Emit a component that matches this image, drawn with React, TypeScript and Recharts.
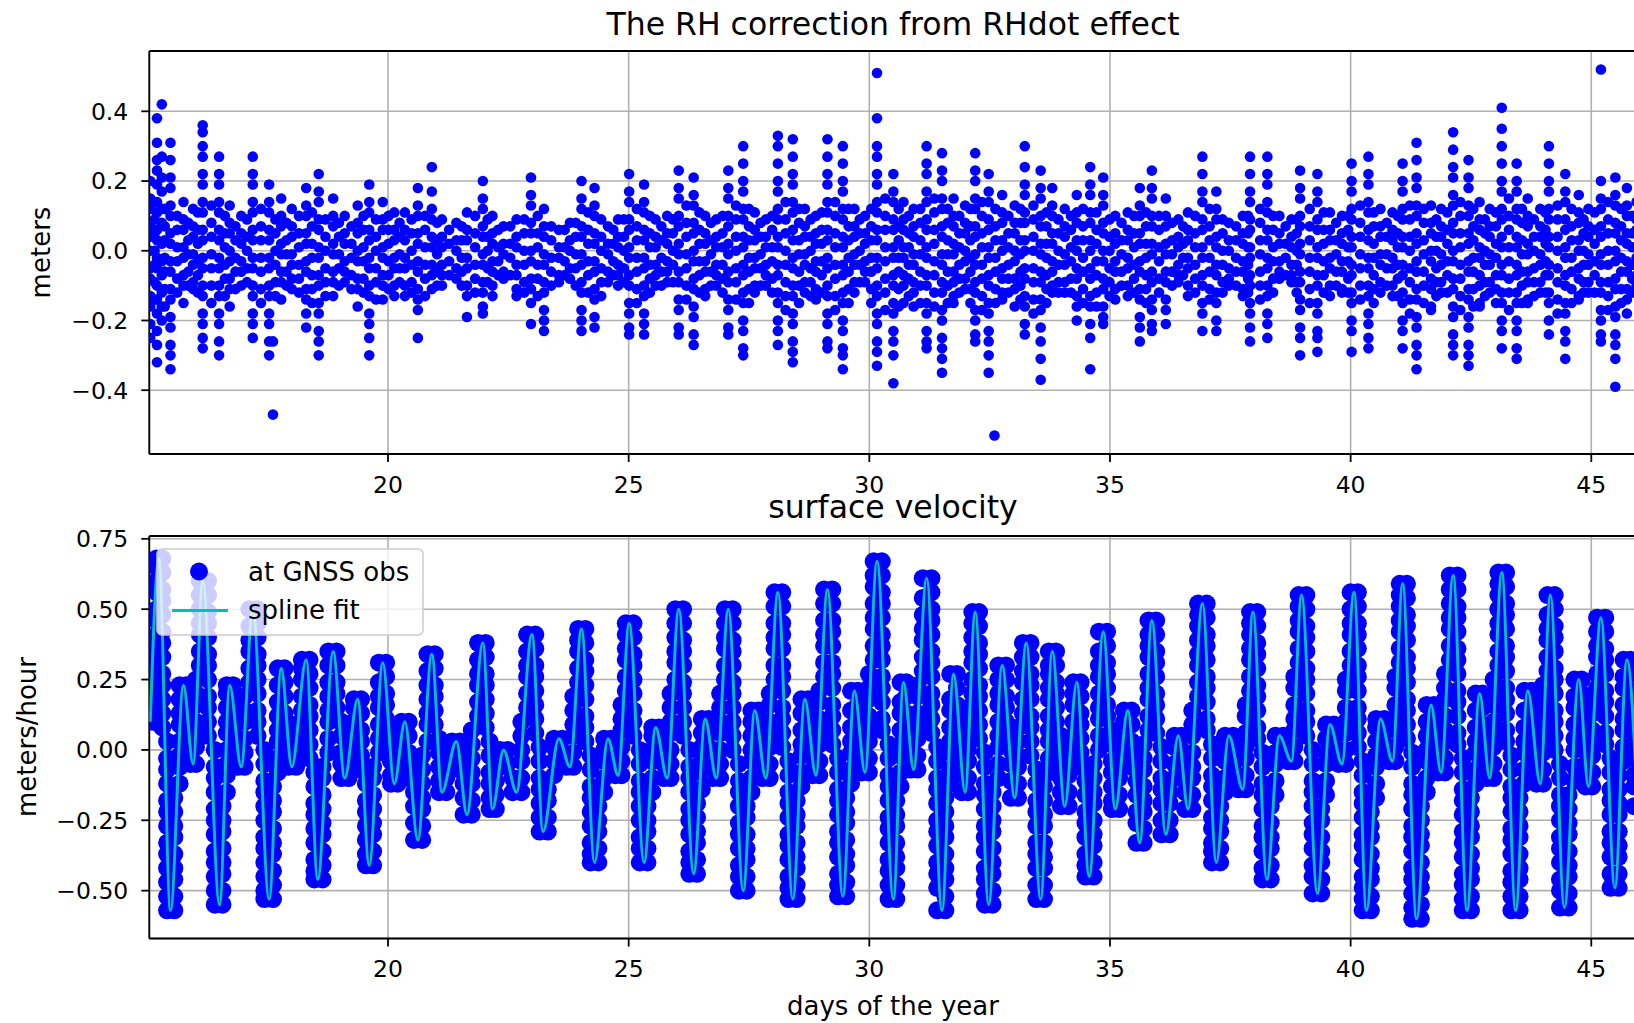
import {
  ScatterChart,
  ComposedChart,
  Scatter,
  Line,
  XAxis,
  YAxis,
  CartesianGrid,
  ReferenceLine
} from 'recharts'

// x range shared by both panels (day of year)
const DAY_MIN = 15.04
const DAY_MAX = 45.95
const dayTicks = [20, 25, 30, 35, 40, 45]
const rhTicks = [-0.4, -0.2, 0, 0.2, 0.4]
const velTicks = [-0.5, -0.25, 0, 0.25, 0.5, 0.75]

// RH correction, grouped by pass time; values in cm
const rhCols: [number, number[]][] = [
  [15.06, [20, 15, 12, 7, 4, 0, -5, -8, -13, -16, -21, -25]],
  [15.2, [38, 31, 26, 23, 19, 14, 11, 6, 3, -2, -5, -10, -14, -18, -23, -27, -32]],
  [15.3, [42, 27, 21, 17, 12, 8, 2, -3, -7, -12, -16, -20]],
  [15.48, [31, 26, 21, 18, 13, 10, 5, 2, -3, -6, -11, -14, -19, -22, -27, -30, -34]],
  [15.75, [14, 9, 6, 1, -2, -7, -10, -15]],
  [15.95, [12, 7, 4, -1, -4, -9, -11]],
  [16.15, [36, 34, 30, 27, 22, 19, 14, 11, 6, 3, -2, -5, -10, -13, -18, -21, -25, -28]],
  [16.49, [27, 22, 19, 14, 11, 6, 3, -2, -5, -10, -13, -18, -21, -26, -30]],
  [16.71, [13, 8, 5, 0, -3, -8, -11, -16]],
  [16.95, [10, 5, 2, -3, -6, -10]],
  [17.19, [27, 22, 19, 14, 11, 6, 3, -2, -5, -10, -13, -18, -21, -25]],
  [17.53, [19, 14, 11, 6, 3, -2, -5, -10, -13, -18, -21, -26, -30]],
  [17.61, [-26, -47]],
  [17.78, [15, 10, 7, 2, -1, -6, -9, -14]],
  [18.0, [12, 7, 4, -1, -4, -8, -11]],
  [18.3, [18, 13, 10, 5, 2, -3, -6, -11, -14, -18, -22]],
  [18.56, [22, 17, 14, 9, 6, 1, -2, -7, -10, -15, -18, -23, -26, -30]],
  [18.86, [15, 10, 7, 2, -1, -6, -9, -13]],
  [19.1, [10, 5, 2, -3, -6, -9]],
  [19.37, [13, 8, 5, 0, -3, -8, -11, -16]],
  [19.61, [19, 14, 11, 6, 3, -2, -5, -10, -13, -18, -21, -25, -30]],
  [19.89, [14, 9, 6, 1, -2, -7, -10, -14]],
  [20.13, [11, 6, 3, -2, -5, -10, -13]],
  [20.35, [11, 6, 3, -2, -5, -10, -13]],
  [20.62, [18, 13, 10, 5, 2, -3, -6, -11, -14, -17, -25]],
  [20.91, [24, 17, 12, 9, 4, 1, -4, -7, -11]],
  [21.12, [9, 4, 1, -4, -7, -10]],
  [21.42, [8, 3, 0, -5, -8]],
  [21.64, [11, 6, 3, -2, -5, -10, -13, -19]],
  [21.97, [20, 15, 12, 7, 4, -1, -4, -9, -12, -16, -18]],
  [22.17, [10, 5, 2, -3, -6, -10, -13]],
  [22.4, [7, 2, -1, -6, -8]],
  [22.67, [9, 4, 1, -4, -7, -11, -13]],
  [22.97, [21, 16, 13, 8, 5, 0, -3, -8, -11, -15, -21]],
  [23.24, [12, 7, 4, -1, -4, -9, -12, -17, -20, -23]],
  [23.55, [6, 1, -2, -7, -9]],
  [23.78, [8, 3, 0, -5, -8]],
  [24.02, [20, 15, 12, 7, 4, -1, -4, -9, -12, -17, -20, -23]],
  [24.29, [18, 13, 10, 5, 2, -3, -6, -11, -14, -19, -22]],
  [24.57, [7, 2, -1, -6, -9]],
  [24.78, [9, 4, 1, -4, -7, -10]],
  [25.01, [22, 17, 14, 9, 6, 1, -2, -7, -10, -15, -18, -22, -24]],
  [25.32, [19, 14, 11, 6, 3, -2, -5, -10, -13, -18, -21, -24]],
  [25.56, [9, 4, 1, -4, -7, -10]],
  [25.8, [10, 5, 2, -3, -6, -9]],
  [26.04, [23, 18, 15, 10, 7, 2, -1, -6, -9, -14, -17, -22, -24]],
  [26.35, [21, 16, 13, 8, 5, 0, -3, -8, -11, -16, -19, -24, -27]],
  [26.59, [10, 5, 2, -3, -6, -11, -13]],
  [26.82, [9, 4, 1, -4, -7, -10]],
  [27.07, [23, 18, 15, 10, 7, 2, -1, -6, -9, -14, -17, -22, -24]],
  [27.38, [30, 25, 20, 17, 12, 9, 4, 1, -4, -7, -12, -15, -20, -23, -28, -30]],
  [27.62, [11, 6, 3, -2, -5, -10, -12]],
  [27.85, [9, 4, 1, -4, -7, -10]],
  [28.1, [33, 30, 25, 20, 17, 12, 9, 4, 1, -4, -7, -12, -15, -20, -23, -27]],
  [28.41, [32, 27, 22, 19, 14, 11, 6, 3, -2, -5, -10, -13, -18, -21, -26, -29, -32]],
  [28.66, [12, 7, 4, -1, -4, -9, -12]],
  [28.89, [10, 5, 2, -3, -6, -11, -14]],
  [29.13, [32, 27, 22, 19, 14, 11, 6, 3, -2, -5, -10, -13, -18, -21, -26, -28]],
  [29.45, [30, 25, 20, 17, 12, 9, 4, 1, -4, -7, -12, -15, -20, -23, -28, -30, -34]],
  [29.69, [12, 7, 4, -1, -4, -9, -12]],
  [29.91, [10, 5, 2, -3, -6, -9]],
  [30.16, [51, 38, 30, 27, 22, 19, 14, 11, 6, 3, -2, -5, -10, -13, -18, -21, -26, -29, -33]],
  [30.5, [22, 17, 14, 9, 6, 1, -2, -7, -10, -15, -18, -23, -26, -30, -38]],
  [30.71, [14, 9, 6, 1, -2, -7, -10, -15]],
  [30.92, [12, 7, 4, -1, -4, -9, -12, -16]],
  [31.19, [30, 25, 22, 17, 14, 9, 6, 1, -2, -7, -10, -15, -18, -23, -26, -28]],
  [31.51, [28, 23, 20, 15, 12, 7, 4, -1, -4, -9, -12, -17, -20, -25, -28, -31, -35]],
  [31.75, [15, 10, 7, 2, -1, -6, -9, -13, -15]],
  [31.99, [13, 8, 5, 0, -3, -8, -11]],
  [32.2, [28, 23, 20, 15, 12, 7, 4, -1, -4, -9, -12, -17, -20, -24, -26]],
  [32.48, [22, 17, 14, 9, 6, 1, -2, -7, -10, -15, -18, -23, -26, -30, -35]],
  [32.6, [-53]],
  [32.76, [16, 11, 8, 3, 0, -5, -8, -12, -14]],
  [33.02, [13, 8, 5, 0, -3, -8, -11, -16]],
  [33.23, [30, 24, 19, 16, 11, 8, 3, 0, -5, -8, -13, -16, -21, -24]],
  [33.56, [23, 18, 15, 10, 7, 2, -1, -6, -9, -14, -17, -22, -26, -31, -37]],
  [33.8, [18, 13, 10, 5, 2, -3, -6, -10, -12]],
  [34.06, [12, 7, 4, -1, -4, -9, -12]],
  [34.31, [16, 11, 8, 3, 0, -5, -8, -13, -16, -20]],
  [34.59, [24, 19, 16, 11, 8, 3, 0, -5, -8, -13, -16, -21, -25, -34]],
  [34.86, [21, 16, 13, 8, 5, 0, -3, -8, -11, -16, -19, -21]],
  [35.11, [10, 5, 2, -3, -6, -11, -14]],
  [35.37, [11, 6, 3, -2, -5, -10, -13]],
  [35.62, [18, 13, 10, 5, 2, -3, -6, -11, -14, -19, -22, -26]],
  [35.87, [23, 18, 15, 10, 7, 2, -1, -6, -9, -14, -17, -21, -23]],
  [36.16, [15, 10, 7, 2, -1, -6, -9, -14, -17, -21]],
  [36.42, [9, 4, 1, -4, -7, -9]],
  [36.62, [11, 6, 3, -2, -5, -10, -13]],
  [36.92, [27, 22, 17, 14, 9, 6, 1, -2, -7, -10, -15, -18, -23]],
  [37.21, [17, 12, 9, 4, 1, -4, -7, -12, -15, -20, -23]],
  [37.47, [8, 3, 0, -5, -8, -10]],
  [37.76, [10, 5, 2, -3, -6, -11, -13]],
  [37.91, [27, 22, 17, 14, 9, 6, 1, -2, -7, -10, -15, -18, -22, -26]],
  [38.27, [27, 22, 19, 14, 11, 6, 3, -2, -5, -10, -13, -18, -21, -25]],
  [38.52, [10, 5, 2, -3, -6, -8]],
  [38.77, [9, 4, 1, -4, -7, -9]],
  [38.95, [23, 18, 15, 10, 7, 2, -1, -6, -9, -14, -17, -22, -25, -30]],
  [39.31, [22, 17, 14, 9, 6, 1, -2, -7, -10, -15, -18, -23, -25, -29]],
  [39.57, [11, 6, 3, -2, -5, -10, -13]],
  [39.82, [10, 5, 2, -3, -6, -11, -12]],
  [40.02, [25, 20, 17, 12, 9, 4, 1, -4, -7, -12, -15, -20, -23, -29]],
  [40.37, [27, 22, 19, 14, 11, 6, 3, -2, -5, -10, -13, -18, -21, -25, -28]],
  [40.62, [12, 7, 4, -1, -4, -9, -12]],
  [40.87, [11, 6, 3, -2, -5, -10, -13]],
  [41.08, [25, 20, 17, 12, 9, 4, 1, -4, -7, -12, -15, -20, -23, -28]],
  [41.37, [31, 26, 21, 18, 13, 10, 5, 2, -3, -6, -11, -14, -19, -22, -27, -30, -34]],
  [41.67, [13, 8, 5, 0, -3, -8, -11, -16, -17]],
  [41.88, [12, 7, 4, -1, -4, -9, -12]],
  [42.13, [34, 29, 24, 21, 16, 13, 8, 5, 0, -3, -8, -11, -16, -19, -24, -27, -30]],
  [42.45, [26, 21, 18, 13, 10, 5, 2, -3, -6, -11, -14, -19, -22, -27, -30, -33]],
  [42.68, [14, 9, 6, 1, -2, -7, -10, -15, -16]],
  [42.89, [12, 7, 4, -1, -4, -9, -12]],
  [43.14, [41, 35, 30, 25, 20, 17, 12, 9, 4, 1, -4, -7, -12, -15, -20, -23, -28]],
  [43.45, [25, 20, 17, 12, 9, 4, 1, -4, -7, -12, -15, -20, -23, -28, -31]],
  [43.68, [15, 10, 7, 2, -1, -6, -9, -14, -15]],
  [43.94, [12, 7, 4, -1, -4, -9, -12]],
  [44.12, [30, 25, 20, 17, 12, 9, 4, 1, -4, -7, -12, -15, -20, -24]],
  [44.46, [22, 17, 14, 9, 6, 1, -2, -7, -10, -15, -18, -23, -26, -31]],
  [44.74, [16, 11, 8, 3, 0, -5, -8, -13, -14]],
  [44.94, [12, 7, 4, -1, -4, -9, -12]],
  [45.2, [52, 20, 15, 12, 7, 4, -1, -4, -9, -12, -17, -20, -24, -26]],
  [45.5, [21, 16, 13, 8, 5, 0, -3, -8, -11, -16, -19, -24, -27, -31, -39]],
  [45.74, [18, 13, 10, 5, 2, -3, -6, -11, -14, -18]],
  [45.94, [14, 9, 6, 1, -2, -7, -10]]
]

// RH correction between passes (smaller spread around zero); cm
const rhMidCols: [number, number[]][] = [
  [15.15, [14, 9, 5, 0, -4, -9, -14]], [15.36, [12, 7, 3, -2, -6, -11, -16]], [15.62, [10, 6, 1, -3, -8, -12]],
  [15.85, [8, 3, -1, -6, -10]], [16.05, [11, 6, 2, -3, -7, -12]], [16.33, [13, 8, 4, -1, -5, -10, -15]],
  [16.61, [10, 5, 1, -4, -8, -13]], [16.83, [7, 3, -2, -6, -11]], [17.07, [9, 4, 0, -5, -9]],
  [17.36, [12, 7, 3, -2, -6, -11, -15]], [17.66, [9, 5, 0, -4, -9, -13]], [17.89, [8, 3, -1, -6, -10]],
  [18.15, [10, 5, 1, -4, -8, -12]], [18.42, [11, 7, 2, -2, -7, -11, -15]], [18.7, [9, 4, 0, -5, -9, -13]],
  [18.98, [8, 4, -1, -5, -10]], [19.24, [7, 2, -2, -7, -11]], [19.49, [10, 6, 1, -3, -8, -12]],
  [19.75, [9, 4, 0, -5, -9, -14]], [20.01, [10, 6, 2, -3, -7, -11]], [20.24, [8, 4, -1, -5, -9]],
  [20.49, [9, 5, 0, -4, -9, -12]], [20.77, [10, 6, 1, -4, -8, -13]], [21.02, [8, 3, -1, -6, -10]],
  [21.27, [6, 2, -3, -7]], [21.53, [7, 3, -2, -6, -10]], [21.81, [10, 5, 1, -4, -8, -12]],
  [22.07, [9, 4, 0, -5, -9]], [22.29, [6, 1, -3, -7]], [22.54, [7, 2, -2, -7]],
  [22.83, [9, 5, 0, -4, -9, -12]], [23.11, [10, 5, 1, -4, -8, -13]], [23.39, [7, 3, -2, -6, -10]],
  [23.67, [6, 1, -3, -7]], [23.9, [8, 4, -1, -5, -10]], [24.16, [11, 6, 2, -3, -7, -12]],
  [24.43, [9, 4, 0, -5, -9, -13]], [24.68, [6, 2, -3, -7]], [24.9, [9, 4, 0, -5, -9]],
  [25.17, [12, 7, 3, -2, -6, -11, -15]], [25.44, [10, 5, 1, -4, -8, -12]], [25.68, [7, 3, -2, -6, -10]],
  [25.92, [9, 5, 0, -4, -9]], [26.2, [13, 8, 4, -1, -5, -10, -14]], [26.47, [11, 6, 2, -3, -7, -12]],
  [26.71, [8, 3, -1, -6, -10]], [26.95, [10, 5, 1, -4, -8, -12]], [27.23, [13, 9, 4, 0, -5, -9, -14]],
  [27.5, [12, 7, 3, -2, -6, -11, -15]], [27.74, [8, 4, -1, -5, -10]], [27.98, [10, 6, 1, -3, -8, -12]],
  [28.26, [14, 9, 5, 0, -4, -9, -13, -17]], [28.54, [12, 8, 3, -1, -6, -10, -15]], [28.78, [9, 4, 0, -5, -9, -13]],
  [29.01, [11, 6, 2, -3, -7, -12]], [29.29, [14, 10, 5, 1, -4, -8, -13, -17]], [29.57, [12, 7, 3, -2, -6, -11, -15]],
  [29.8, [9, 5, 0, -4, -9]], [30.04, [12, 7, 3, -2, -6, -11, -15]], [30.33, [15, 10, 6, 1, -3, -8, -12, -17]],
  [30.61, [12, 7, 3, -2, -6, -11, -16]], [30.82, [10, 5, 1, -4, -8, -13]], [31.06, [12, 8, 3, -1, -6, -10, -15]],
  [31.35, [15, 11, 6, 2, -3, -7, -12, -16]], [31.63, [12, 8, 3, -1, -6, -10, -15]], [31.87, [10, 5, 1, -4, -8, -12]],
  [32.1, [12, 7, 3, -2, -6, -11, -15]], [32.34, [14, 10, 5, 1, -4, -8, -13, -17]], [32.62, [12, 7, 3, -2, -6, -11, -15]],
  [32.89, [10, 5, 1, -4, -8, -12]], [33.14, [12, 8, 3, -1, -6, -10, -14]], [33.41, [13, 9, 4, 0, -5, -9, -14, -18]],
  [33.68, [11, 7, 2, -2, -7, -11, -15]], [33.93, [9, 5, 0, -4, -9, -12]], [34.19, [10, 6, 1, -3, -8, -12]],
  [34.44, [12, 7, 3, -2, -6, -11, -15]], [34.72, [11, 6, 2, -3, -7, -12, -16]], [34.99, [9, 4, 0, -5, -9, -13]],
  [35.24, [8, 3, -1, -6, -10]], [35.5, [10, 5, 1, -4, -8, -12]], [35.75, [11, 7, 2, -2, -7, -11, -15]],
  [36.02, [10, 6, 1, -3, -8, -12]], [36.29, [8, 3, -1, -6, -10]], [36.52, [7, 2, -2, -7]],
  [36.77, [10, 5, 1, -4, -8, -12]], [37.07, [12, 7, 3, -2, -6, -11, -14]], [37.34, [9, 5, 0, -4, -9, -12]],
  [37.62, [7, 3, -2, -6, -10]], [37.87, [10, 5, 1, -4, -8, -12]], [38.12, [12, 8, 3, -1, -6, -10, -14]],
  [38.39, [10, 6, 1, -3, -8, -12]], [38.65, [7, 2, -2, -7]], [38.88, [9, 5, 0, -4, -9, -12]],
  [39.15, [12, 7, 3, -2, -6, -11, -15]], [39.44, [11, 6, 2, -3, -7, -12]], [39.7, [8, 3, -1, -6, -10]],
  [39.95, [10, 6, 1, -3, -8, -12]], [40.2, [13, 8, 4, -1, -5, -10, -14]], [40.48, [11, 7, 2, -2, -7, -11, -15]],
  [40.75, [8, 4, -1, -5, -10]], [40.98, [10, 5, 1, -4, -8, -13]], [41.23, [13, 9, 4, 0, -5, -9, -14, -18]],
  [41.52, [12, 8, 3, -1, -6, -10, -15]], [41.78, [9, 4, 0, -5, -9, -13]], [42.01, [11, 6, 2, -3, -7, -12]],
  [42.28, [14, 10, 5, 1, -4, -8, -13, -17]], [42.55, [12, 7, 3, -2, -6, -11, -16]], [42.79, [9, 5, 0, -4, -9, -13]],
  [43.02, [11, 7, 2, -2, -7, -11, -15]], [43.29, [15, 10, 6, 1, -3, -8, -12, -17]], [43.56, [12, 8, 3, -1, -6, -10, -15]],
  [43.81, [9, 4, 0, -5, -9, -13]], [44.05, [11, 6, 2, -3, -7, -12]], [44.3, [13, 9, 4, 0, -5, -9, -14, -18]],
  [44.59, [12, 7, 3, -2, -6, -11, -15]], [44.84, [9, 5, 0, -4, -9, -12]], [45.07, [11, 6, 2, -3, -7, -12]],
  [45.35, [14, 9, 5, 0, -4, -9, -13, -17]], [45.62, [12, 7, 3, -2, -6, -11, -15]], [45.85, [10, 5, 1, -4, -8, -12]]
]

// spline fit turning points: day and velocity in cm/h
const splineDays = [
  15.06, 15.24, 15.48, 15.75, 15.95, 16.15, 16.5, 16.71, 16.95, 17.19, 17.53, 17.78, 18.0, 18.3, 18.54, 18.86,
  19.1, 19.37, 19.61, 19.89, 20.13, 20.35, 20.62, 20.91, 21.12, 21.42, 21.64, 21.97, 22.17, 22.4, 22.67, 22.99,
  23.22, 23.55, 23.78, 24.02, 24.29, 24.57, 24.78, 25.01, 25.32, 25.56, 25.8, 26.04, 26.35, 26.59, 26.82, 27.07,
  27.38, 27.62, 27.85, 28.1, 28.41, 28.66, 28.89, 29.13, 29.45, 29.69, 29.91, 30.16, 30.5, 30.71, 30.92, 31.19,
  31.51, 31.75, 31.99, 32.2, 32.48, 32.76, 33.02, 33.26, 33.56, 33.8, 34.06, 34.31, 34.57, 34.86, 35.11, 35.37,
  35.62, 35.87, 36.16, 36.42, 36.62, 36.92, 37.21, 37.47, 37.76, 37.97, 38.26, 38.52, 38.77, 38.98, 39.31, 39.57,
  39.82, 40.07, 40.33, 40.62, 40.87, 41.08, 41.37, 41.67, 41.88, 42.13, 42.42, 42.68, 42.89, 43.14, 43.43, 43.68,
  43.94, 44.15, 44.44, 44.74, 44.94, 45.2, 45.49, 45.74, 45.96
]
const splineVel = [
  10, 68, -57, 23, -5, 60, -55, 23, -6, 50, -53, 29, -6, 32, -46, 35,
  -10, 18, -41, 31, -12, 10, -32, 34, -15, 3, -23, 38, -21, 0, -15, 41,
  -29, 4, -6, 43, -40, 4, -9, 45, -40, 8, -10, 50, -44, 11, -10, 50,
  -50, 14, -10, 56, -53, 18, -9, 57, -52, 21, -8, 67, -53, 24, -7, 61,
  -57, 27, -15, 49, -55, 30, -17, 38, -53, 35, -20, 24, -45, 42, -21, 14,
  -33, 46, -30, 5, -21, 52, -40, 5, -14, 49, -46, 5, -4, 55, -51, 9,
  -5, 56, -57, 11, -4, 59, -60, 16, -8, 62, -57, 20, -10, 63, -57, 21,
  -12, 55, -56, 25, -13, 47, -49, 32, -20
]

// velocity at the GNSS observation times, grouped by time; cm/h
const obsCols: [number, number[]][] = [
  [15.11, [10, 16, 21, 27, 31, 36]], [15.19, [41, 46, 50, 56, 60, 65, 68]],
  [15.31, [68, 63, 57, 53, 48, 42, 38, 33, 27, 23, 18, 13, 8]], [15.41, [3, -3, -7, -12, -18, -22, -27, -33, -37, -42, -47, -52, -57]],
  [15.56, [-57, -52, -46, -42, -37, -31, -27, -22, -17]], [15.67, [-12, -6, -2, 3, 9, 13, 18, 23]],
  [15.81, [23, 18, 12, 8]], [15.89, [3, -2, -5]],
  [16.01, [-5, 1, 5, 10, 16, 20, 25]], [16.09, [30, 35, 41, 45, 50, 55, 60]],
  [16.26, [60, 55, 49, 45, 40, 34, 30, 25, 19, 15, 10, 5]], [16.4, [0, -6, -10, -15, -21, -25, -30, -36, -40, -45, -50, -55]],
  [16.56, [-55, -50, -44, -40, -35, -29, -25, -20]], [16.65, [-15, -9, -5, 0, 6, 10, 15, 20, 23]],
  [16.78, [23, 18, 13, 8]], [16.88, [3, -2, -6]],
  [17.02, [-6, -1, 4, 10, 14, 19]], [17.12, [24, 29, 35, 39, 44, 50]],
  [17.29, [50, 45, 40, 34, 30, 25, 20, 14, 10, 5]], [17.43, [0, -5, -11, -15, -20, -25, -31, -35, -40, -45, -50, -53]],
  [17.61, [-53, -48, -43, -37, -33, -28, -22, -18, -13]], [17.71, [-8, -3, 3, 7, 12, 17, 23, 29]],
  [17.85, [29, 24, 19, 13, 9]], [17.93, [4, -1, -6]],
  [18.09, [-6, -1, 4, 9]], [18.21, [14, 19, 25, 29, 32]],
  [18.37, [32, 27, 22, 16, 12, 7, 2, -3]], [18.47, [-8, -13, -19, -23, -28, -33, -39, -43, -46]],
  [18.64, [-46, -41, -36, -30, -26, -21, -16, -10, -6]], [18.76, [-1, 4, 10, 14, 19, 24, 30, 35]],
  [18.93, [35, 30, 24, 20, 15]], [19.03, [10, 5, -1, -5, -10]],
  [19.18, [-10, -5, 0, 5]], [19.29, [10, 15, 18]],
  [19.44, [18, 13, 7, 3, -2, -7]], [19.54, [-12, -18, -22, -27, -32, -37, -41]],
  [19.69, [-41, -36, -30, -26, -21, -16, -10, -6]], [19.81, [-1, 4, 9, 15, 19, 24, 31]],
  [19.96, [31, 26, 20, 16, 11]], [20.06, [6, 1, -4, -9, -12]],
  [20.2, [-12, -7, -2]], [20.28, [3, 8, 10]],
  [20.43, [10, 5, -1, -5, -10]], [20.54, [-15, -20, -26, -32]],
  [20.71, [-32, -27, -21, -17, -12, -7, -2]], [20.82, [3, 9, 13, 18, 23, 28, 34]],
  [20.97, [34, 29, 23, 19, 14, 9]], [21.06, [4, -1, -6, -11, -15]],
  [21.21, [-15, -10, -5]], [21.33, [0, 3]],
  [21.49, [3, -2, -7]], [21.57, [-12, -17, -23]],
  [21.74, [-23, -18, -12, -8, -3, 2, 7]], [21.87, [12, 17, 23, 27, 32, 38]],
  [22.03, [38, 33, 27, 23, 18, 13, 8]], [22.11, [3, -2, -8, -12, -17, -21]],
  [22.24, [-21, -16, -11]], [22.33, [-6, 0]],
  [22.48, [0, -5]], [22.59, [-10, -15]],
  [22.77, [-15, -10, -4, 0, 5, 10]], [22.89, [15, 20, 26, 30, 35, 41]],
  [23.06, [41, 36, 30, 26, 21, 16, 11, 6]], [23.15, [1, -4, -10, -14, -19, -24, -29]],
  [23.32, [-29, -24, -18, -14]], [23.45, [-9, -4, 1, 4]],
  [23.62, [4, -1]], [23.71, [-6]],
  [23.85, [-6, -1, 5, 9, 14, 19]], [23.95, [24, 29, 35, 39, 43]],
  [24.1, [43, 38, 32, 28, 23, 18, 12, 8, 3]], [24.21, [-2, -7, -13, -17, -22, -27, -33, -37, -40]],
  [24.37, [-40, -35, -29, -25, -20]], [24.49, [-15, -10, -4, 0, 4]],
  [24.63, [4, -1]], [24.72, [-6, -9]],
  [24.85, [-9, -4, 1, 7, 11, 16]], [24.94, [21, 26, 32, 36, 41, 45]],
  [25.1, [45, 40, 34, 30, 25, 20, 14, 10, 5]], [25.23, [0, -5, -11, -15, -20, -25, -31, -35, -40]],
  [25.39, [-40, -35, -29, -25, -20]], [25.49, [-15, -10, -4, 0, 5, 8]],
  [25.63, [8, 3, -2]], [25.73, [-5, -10]],
  [25.87, [-10, -5, 0, 6, 10, 15, 20]], [25.97, [25, 31, 35, 40, 45, 50]],
  [26.13, [50, 45, 39, 35, 30, 24, 20, 15, 10, 5]], [26.26, [0, -6, -10, -15, -21, -25, -30, -36, -40, -44]],
  [26.42, [-44, -39, -33, -29, -24, -19]], [26.52, [-14, -8, -4, 1, 6, 11]],
  [26.66, [11, 6, 1]], [26.75, [-4, -10]],
  [26.9, [-10, -5, 0, 6, 10, 15, 20]], [27.0, [25, 30, 36, 40, 45, 50]],
  [27.16, [50, 45, 39, 35, 30, 24, 20, 15, 10, 5, 0]], [27.29, [-5, -11, -15, -20, -26, -30, -35, -41, -45, -50]],
  [27.45, [-50, -45, -39, -35, -30, -24, -20]], [27.55, [-15, -10, -4, 0, 5, 10, 14]],
  [27.69, [14, 9, 4]], [27.78, [-1, -6, -10]],
  [27.93, [-10, -5, 1, 5, 10, 16, 20]], [28.03, [25, 30, 36, 40, 45, 51, 56]],
  [28.19, [56, 51, 45, 41, 36, 30, 26, 21, 15, 11, 6, 1]], [28.32, [-4, -9, -15, -19, -24, -30, -34, -39, -45, -49, -53]],
  [28.49, [-53, -48, -42, -38, -33, -27, -23, -18]], [28.59, [-13, -8, -2, 2, 7, 13, 18]],
  [28.73, [18, 13, 8, 3]], [28.82, [-2, -7, -9]],
  [28.96, [-9, -4, 2, 6, 11, 17, 21]], [29.06, [26, 31, 37, 41, 46, 52, 57]],
  [29.23, [57, 52, 46, 42, 37, 31, 27, 22, 16, 12, 7, 2]], [29.35, [-3, -8, -14, -18, -23, -29, -33, -38, -44, -48, -52]],
  [29.52, [-52, -47, -41, -37, -32, -26, -22, -17]], [29.62, [-12, -7, -1, 3, 8, 14, 21]],
  [29.76, [21, 16, 10, 6]], [29.84, [1, -4, -8]],
  [29.99, [-8, -3, 3, 7, 12, 18, 22, 27]], [30.09, [32, 37, 43, 47, 52, 58, 62, 67]],
  [30.26, [67, 62, 56, 52, 47, 41, 37, 32, 26, 22, 17, 11, 7]], [30.4, [2, -3, -9, -13, -18, -24, -28, -33, -39, -43, -48, -53]],
  [30.56, [-53, -48, -42, -38, -33, -27, -23, -18]], [30.65, [-13, -8, -2, 2, 7, 13, 17, 24]],
  [30.77, [24, 19, 13, 9]], [30.86, [4, -1, -7]],
  [31.0, [-7, -2, 4, 8, 13, 19, 23]], [31.11, [28, 33, 39, 43, 48, 54, 61]],
  [31.29, [61, 56, 50, 46, 41, 35, 31, 26, 20, 16, 11, 6]], [31.41, [1, -4, -10, -14, -19, -25, -29, -34, -40, -44, -49, -57]],
  [31.58, [-57, -52, -46, -42, -37, -31, -27, -22, -17]], [31.68, [-12, -7, -1, 3, 8, 14, 18, 27]],
  [31.82, [27, 22, 16, 12, 7]], [31.92, [2, -3, -9, -15]],
  [32.05, [-15, -10, -4, 0, 5, 11, 15]], [32.14, [20, 25, 31, 35, 40, 45, 49]],
  [32.28, [49, 44, 38, 34, 29, 23, 19, 14, 9, 4]], [32.4, [-1, -6, -12, -16, -21, -27, -31, -36, -42, -46, -51, -55]],
  [32.56, [-55, -50, -44, -40, -35, -29, -25, -20, -15]], [32.68, [-10, -5, 1, 5, 10, 16, 20, 25, 30]],
  [32.84, [30, 25, 19, 15, 10, 5]], [32.94, [0, -5, -11, -17]],
  [33.09, [-17, -12, -6, -2, 3, 8]], [33.19, [13, 18, 24, 28, 33, 38]],
  [33.35, [38, 33, 27, 23, 18, 12, 8, 3, -2]], [33.47, [-7, -12, -18, -22, -27, -33, -37, -42, -48, -53]],
  [33.63, [-53, -48, -42, -38, -33, -27, -23, -18, -13]], [33.73, [-8, -3, 3, 7, 12, 18, 22, 27, 30, 35]],
  [33.88, [35, 30, 24, 20, 15, 10]], [33.98, [5, 0, -6, -10, -15, -20]],
  [34.14, [-20, -15, -9, -5, 0]], [34.24, [5, 10, 16, 20, 24]],
  [34.39, [24, 19, 13, 9, 4, -1, -6]], [34.49, [-11, -16, -22, -26, -31, -37, -41, -45]],
  [34.66, [-45, -40, -34, -30, -25, -19, -15, -10, -5]], [34.77, [0, 5, 11, 15, 20, 26, 30, 35, 42]],
  [34.94, [42, 37, 31, 27, 22, 16, 12]], [35.04, [7, 2, -4, -8, -13, -18, -21]],
  [35.19, [-21, -16, -10, -6]], [35.29, [-1, 4, 10, 14]],
  [35.45, [14, 9, 3, -1, -6]], [35.55, [-11, -16, -22, -26, -33]],
  [35.7, [-33, -28, -22, -18, -13, -7, -3, 2]], [35.8, [7, 12, 18, 22, 27, 33, 37, 41, 46]],
  [35.96, [46, 41, 35, 31, 26, 20, 16, 11, 6]], [36.07, [1, -4, -10, -14, -19, -25, -30]],
  [36.24, [-30, -25, -19, -15]], [36.34, [-10, -5, 1, 5]],
  [36.48, [5, 0, -5]], [36.56, [-10, -15, -21]],
  [36.71, [-21, -16, -10, -6, -1, 5, 9, 14]], [36.83, [19, 24, 30, 34, 39, 44, 48, 52]],
  [37.01, [52, 47, 41, 37, 32, 26, 22, 17, 11, 7]], [37.12, [2, -3, -9, -13, -18, -24, -28, -33, -36, -40]],
  [37.29, [-40, -35, -29, -25, -20]], [37.39, [-15, -10, -4, 0, 5]],
  [37.56, [5, 0, -5]], [37.67, [-10, -14]],
  [37.82, [-14, -9, -3, 1, 6, 12, 16]], [37.91, [21, 26, 32, 36, 41, 45, 49]],
  [38.06, [49, 44, 38, 34, 29, 23, 19, 14, 8, 4]], [38.17, [-1, -6, -12, -16, -21, -27, -31, -36, -42, -46]],
  [38.34, [-46, -41, -35, -31, -26, -20]], [38.44, [-16, -11, -5, -1, 5]],
  [38.6, [5, 0]], [38.7, [-4]],
  [38.83, [-4, 1, 7, 11, 16, 22, 26]], [38.92, [31, 36, 42, 46, 51, 55]],
  [39.08, [55, 50, 44, 40, 35, 29, 25, 20, 14, 10, 5]], [39.21, [0, -5, -11, -15, -20, -26, -30, -35, -41, -45, -51]],
  [39.39, [-51, -46, -40, -36, -31, -25, -21]], [39.49, [-16, -11, -5, -1, 4, 9]],
  [39.65, [9, 4]], [39.75, [-1, -5]],
  [39.9, [-5, 0, 6, 10, 15, 21, 25]], [40.0, [30, 35, 41, 45, 50, 56]],
  [40.15, [56, 51, 45, 41, 36, 30, 26, 21, 15, 11, 6, 1]], [40.25, [-4, -9, -15, -19, -24, -30, -34, -39, -45, -49, -53, -57]],
  [40.42, [-57, -52, -46, -42, -37, -31, -27, -22]], [40.53, [-17, -12, -6, -2, 3, 8, 11]],
  [40.7, [11, 6]], [40.8, [1, -4]],
  [40.93, [-4, 1, 7, 11, 16, 22, 26]], [41.02, [31, 36, 42, 46, 51, 55, 59]],
  [41.17, [59, 54, 48, 44, 39, 33, 29, 24, 18, 14, 9, 4]], [41.28, [-1, -6, -12, -16, -21, -27, -31, -36, -42, -46, -51, -56, -60]],
  [41.46, [-60, -55, -49, -45, -40, -34, -30, -25, -20]], [41.58, [-15, -10, -4, 0, 5, 10, 16]],
  [41.73, [16, 11, 6]], [41.82, [1, -4, -8]],
  [41.96, [-8, -3, 3, 7, 12, 18, 22, 27]], [42.06, [32, 37, 43, 47, 52, 57, 62]],
  [42.22, [62, 57, 51, 47, 42, 36, 32, 27, 21, 17, 12, 6, 2]], [42.33, [-3, -8, -14, -18, -23, -29, -33, -38, -44, -48, -53, -57]],
  [42.5, [-57, -52, -46, -42, -37, -31, -27, -22, -17]], [42.6, [-12, -7, -1, 3, 8, 14, 20]],
  [42.74, [20, 15, 9, 5]], [42.83, [0, -5, -10]],
  [42.97, [-10, -5, 1, 5, 10, 16, 20, 25]], [43.07, [30, 35, 41, 45, 50, 55, 59, 63]],
  [43.23, [63, 58, 52, 48, 43, 37, 33, 28, 22, 18, 13, 7, 3]], [43.34, [-2, -7, -13, -17, -22, -28, -32, -37, -43, -47, -52, -57]],
  [43.51, [-57, -52, -46, -42, -37, -31, -27, -22, -17]], [43.61, [-12, -7, -1, 3, 8, 14, 21]],
  [43.76, [21, 16, 10, 6]], [43.86, [1, -4, -9, -12]],
  [44.0, [-12, -7, -1, 3, 8, 14, 18, 23]], [44.09, [28, 33, 39, 43, 48, 55]],
  [44.24, [55, 50, 44, 40, 35, 29, 25, 20, 14, 10, 5, 0]], [44.35, [-5, -10, -16, -20, -25, -31, -35, -40, -46, -50, -56]],
  [44.53, [-56, -51, -45, -41, -36, -30, -26, -21, -16]], [44.65, [-11, -6, 0, 4, 9, 15, 19, 25]],
  [44.8, [25, 20, 14, 10, 5]], [44.88, [0, -5, -10, -13]],
  [45.02, [-13, -8, -2, 2, 7, 13, 17]], [45.12, [22, 27, 33, 37, 42, 47]],
  [45.29, [47, 42, 36, 32, 27, 21, 17, 12, 6, 2]], [45.4, [-3, -8, -14, -18, -23, -29, -33, -38, -44, -49]],
  [45.57, [-49, -44, -38, -34, -29, -23, -19, -14, -9]], [45.67, [-4, 1, 7, 11, 16, 22, 26, 32]],
  [45.81, [32, 27, 21, 17, 12, 7]], [45.89, [2, -3, -9, -13, -20]]
]

const toPoints = (cols: [number, number[]][]) =>
  cols.flatMap(([t, vals]) => vals.map((cm) => ({ t, v: cm / 100 })))

const rhPoints = [...toPoints(rhMidCols), ...toPoints(rhCols)]
const obsPoints = toPoints(obsCols)
const splinePoints = splineDays.map((t, i) => ({ t, v: splineVel[i] / 100 }))

const BLUE = '#0000ff'
const CYAN = '#00bfbf'
const FONT = '"DejaVu Sans", sans-serif'
const GRID = '#b0b0b0'

const tickStyle = { fill: '#000', fontSize: 23.5, fontFamily: FONT }
const spine = { stroke: '#000', strokeWidth: 1.8 }

const minus = (s: string) => s.replace('-', '\u2212')
const fmt1 = (v: number) => minus(v.toFixed(1))
const fmt2 = (v: number) => minus(v.toFixed(2))

const smallDot = (p: any) => <circle cx={p.cx} cy={p.cy} r={5.3} fill={BLUE} />
const bigDot = (p: any) => <circle cx={p.cx} cy={p.cy} r={9} fill={BLUE} />

const CHART_W = 1647
const PLOT_LEFT = 149.3

function RhPanel() {
  return (
    <ScatterChart width={CHART_W} height={504} margin={{ top: 51, right: 10, bottom: 0, left: 0 }}>
      <CartesianGrid stroke={GRID} strokeWidth={1.6} />
      <XAxis
        type="number"
        dataKey="t"
        domain={[DAY_MIN, DAY_MAX]}
        ticks={dayTicks}
        interval={0}
        allowDataOverflow
        height={50}
        tickSize={8}
        tickMargin={14}
        tick={tickStyle}
        axisLine={spine}
        tickLine={spine}
      />
      <YAxis
        type="number"
        dataKey="v"
        domain={[-0.583, 0.573]}
        ticks={rhTicks}
        interval={0}
        allowDataOverflow
        width={PLOT_LEFT}
        tickSize={8}
        tickMargin={13}
        tickFormatter={fmt1}
        tick={tickStyle}
        axisLine={spine}
        tickLine={spine}
      />
      <ReferenceLine y={0.573} stroke="#000" strokeWidth={1.8} />
      <Scatter data={rhPoints} shape={smallDot} isAnimationActive={false} />
    </ScatterChart>
  )
}

function VelocityPanel() {
  return (
    <ComposedChart width={CHART_W} height={508.5} margin={{ top: 56, right: 10, bottom: 0, left: 0 }}>
      <CartesianGrid stroke={GRID} strokeWidth={1.6} />
      <XAxis
        type="number"
        dataKey="t"
        domain={[DAY_MIN, DAY_MAX]}
        ticks={dayTicks}
        interval={0}
        allowDataOverflow
        height={50}
        tickSize={8}
        tickMargin={14}
        tick={tickStyle}
        axisLine={spine}
        tickLine={spine}
      />
      <YAxis
        type="number"
        dataKey="v"
        domain={[-0.67, 0.76]}
        ticks={velTicks}
        interval={0}
        allowDataOverflow
        width={PLOT_LEFT}
        tickSize={8}
        tickMargin={13}
        tickFormatter={fmt2}
        tick={tickStyle}
        axisLine={spine}
        tickLine={spine}
      />
      <ReferenceLine y={0.76} stroke="#000" strokeWidth={1.8} />
      <Scatter data={obsPoints} dataKey="v" shape={bigDot} isAnimationActive={false} />
      {/* spline drawn above the observation dots */}
      <Line
        data={splinePoints}
        dataKey="v"
        type="monotone"
        stroke={CYAN}
        strokeWidth={3}
        dot={false}
        activeDot={false}
        isAnimationActive={false}
        {...({ zIndex: 700 } as any)}
      />
    </ComposedChart>
  )
}

export default function App() {
  return (
    <div
      style={{
        position: 'fixed',
        left: 0,
        top: 0,
        width: 1634,
        height: 1023,
        overflow: 'hidden',
        background: '#fff'
      }}
    >
      <div style={{ position: 'absolute', left: 0, top: 0 }}>
        <RhPanel />
      </div>
      <div style={{ position: 'absolute', left: 0, top: 480 }}>
        <VelocityPanel />
      </div>
      <svg
        width={1634}
        height={1023}
        style={{ position: 'absolute', left: 0, top: 0, pointerEvents: 'none' }}
        fontFamily={FONT}
        fill="#000"
      >
        <text x={893} y={34.5} textAnchor="middle" fontSize={31.5}>
          The RH correction from RHdot effect
        </text>
        <text x={893} y={518} textAnchor="middle" fontSize={31.5}>
          surface velocity
        </text>
        <text x={893} y={1015} textAnchor="middle" fontSize={26}>
          days of the year
        </text>
        <text x={50} y={252.5} textAnchor="middle" fontSize={26} transform="rotate(-90 50 252.5)">
          meters
        </text>
        <text x={36} y={737} textAnchor="middle" fontSize={26} transform="rotate(-90 36 737)">
          meters/hour
        </text>

        {/* legend box, upper left of the velocity panel */}
        <rect x={157} y={549} width={266} height={86} rx={5} fill="#fff" fillOpacity={0.8} stroke="#cccccc" strokeWidth={1.5} />
        <circle cx={199} cy={571.5} r={9} fill={BLUE} />
        <text x={248} y={581} fontSize={26}>
          at GNSS obs
        </text>
        <line x1={172} x2={228} y1={610.5} y2={610.5} stroke={CYAN} strokeWidth={3} />
        <text x={248} y={619} fontSize={26}>
          spline fit
        </text>
      </svg>
    </div>
  )
}
